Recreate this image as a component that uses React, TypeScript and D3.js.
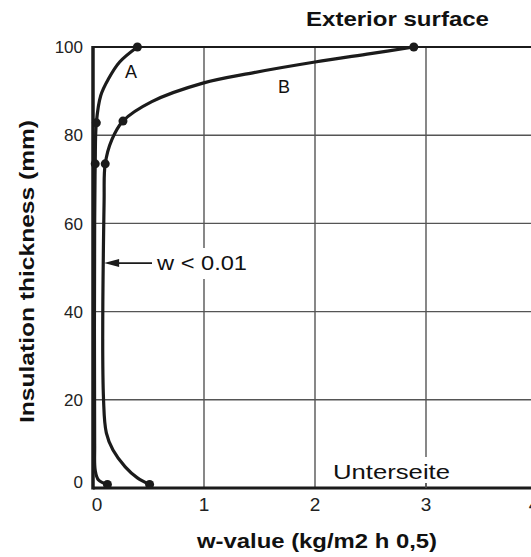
import { useEffect, useRef } from "react";
import * as d3 from "d3";

const xTicks = [0, 1, 2, 3, 4];
const yTicks = [0, 20, 40, 60, 80, 100];

// curve A: the one hugging the y axis (w, thickness mm)
const curveA = [
  { w: 0.4, t: 100 },
  { w: 0.24, t: 96.6 },
  { w: 0.14, t: 92.8 },
  { w: 0.07, t: 89 },
  { w: 0.03, t: 82.8 },
  { w: 0.02, t: 73.5 },
  { w: 0.015, t: 60 },
  { w: 0.015, t: 10 },
  { w: 0.02, t: 4 },
  { w: 0.05, t: 1.8 },
  { w: 0.13, t: 0.8 },
];
const dotsA = [
  { w: 0.4, t: 100 },
  { w: 0.03, t: 82.8 },
  { w: 0.02, t: 73.5 },
  { w: 0.13, t: 0.8 },
];

// curve B
const curveB = [
  { w: 2.89, t: 100 },
  { w: 2.5, t: 98.5 },
  { w: 2.0, t: 96.6 },
  { w: 1.45, t: 94.2 },
  { w: 0.99, t: 91.8 },
  { w: 0.53, t: 87.6 },
  { w: 0.27, t: 83.2 },
  { w: 0.17, t: 79 },
  { w: 0.11, t: 73.5 },
  { w: 0.1, t: 65 },
  { w: 0.095, t: 20 },
  { w: 0.12, t: 12.5 },
  { w: 0.18, t: 8.6 },
  { w: 0.29, t: 4.8 },
  { w: 0.4, t: 2.3 },
  { w: 0.51, t: 0.8 },
];
const dotsB = [
  { w: 2.89, t: 100 },
  { w: 0.27, t: 83.2 },
  { w: 0.11, t: 73.5 },
  { w: 0.51, t: 0.8 },
];

const ink = "#1b1b1b";
const grid = "#555";
const font = "'Liberation Sans', Arial, sans-serif";

const App = () => {
  const ref = useRef<SVGSVGElement>(null);

  useEffect(() => {
    const svg = d3.select(ref.current);
    svg.selectAll("*").remove();

    const x = d3.scaleLinear().domain([0, 4]).range([93, 537]);
    const y = d3.scaleLinear().domain([0, 100]).range([488, 47]);

    // grid
    svg.append("g")
      .selectAll("line")
      .data(yTicks.slice(1, -1))
      .join("line")
      .attr("x1", x(0)).attr("x2", x(4))
      .attr("y1", d => y(d)).attr("y2", d => y(d))
      .attr("stroke", grid).attr("stroke-width", 1.4);

    svg.append("g")
      .selectAll("line")
      .data(xTicks.slice(1))
      .join("line")
      .attr("x1", d => x(d)).attr("x2", d => x(d))
      .attr("y1", y(0)).attr("y2", y(100))
      .attr("stroke", grid).attr("stroke-width", 1.4);

    // top border
    svg.append("line")
      .attr("x1", x(0)).attr("x2", x(4))
      .attr("y1", y(100)).attr("y2", y(100))
      .attr("stroke", ink).attr("stroke-width", 2);

    // axes
    svg.append("line")
      .attr("x1", x(0)).attr("x2", x(0))
      .attr("y1", y(100) - 1).attr("y2", y(0) + 1.5)
      .attr("stroke", ink).attr("stroke-width", 3.5);
    svg.append("line")
      .attr("x1", x(0)).attr("x2", x(4))
      .attr("y1", y(0)).attr("y2", y(0))
      .attr("stroke", ink).attr("stroke-width", 3);

    // tick labels
    svg.append("g")
      .selectAll("text")
      .data(yTicks)
      .join("text")
      .attr("x", 83)
      .attr("y", d => (d === 0 ? y(d) - 6 : y(d)))
      .attr("dy", "0.36em")
      .attr("text-anchor", "end")
      .attr("font-family", font)
      .attr("font-size", 17)
      .attr("fill", "#222")
      .text(d => d);

    svg.append("g")
      .selectAll("text")
      .data(xTicks)
      .join("text")
      .attr("x", d => (d === 0 ? x(d) + 4 : d === 4 ? x(d) - 3 : x(d)))
      .attr("y", 511)
      .attr("text-anchor", "middle")
      .attr("font-family", font)
      .attr("font-size", 19)
      .attr("fill", "#222")
      .text(d => d);

    // label backgrounds cutting the grid
    svg.append("rect").attr("x", 150).attr("y", 248).attr("width", 104).attr("height", 31).attr("fill", "#fff");
    svg.append("rect").attr("x", 328).attr("y", 457).attr("width", 126).attr("height", 26).attr("fill", "#fff");
    svg.append("line")
      .attr("x1", x(3)).attr("x2", x(3))
      .attr("y1", 483).attr("y2", y(0))
      .attr("stroke", grid).attr("stroke-width", 1.4);

    // curves
    const line = d3.line<{ w: number; t: number }>()
      .x(d => x(d.w))
      .y(d => y(d.t))
      .curve(d3.curveCatmullRom.alpha(0.5));

    [curveA, curveB].forEach(c => {
      svg.append("path")
        .datum(c)
        .attr("d", line)
        .attr("fill", "none")
        .attr("stroke", ink)
        .attr("stroke-width", 3.2);
    });

    svg.append("g")
      .selectAll("circle")
      .data([...dotsA, ...dotsB])
      .join("circle")
      .attr("cx", d => x(d.w))
      .attr("cy", d => y(d.t))
      .attr("r", 4.5)
      .attr("fill", ink);

    // annotation arrow to curve B
    const ay = y(51);
    svg.append("line")
      .attr("x1", 152).attr("x2", 116)
      .attr("y1", ay).attr("y2", ay)
      .attr("stroke", ink).attr("stroke-width", 1.8);
    svg.append("path")
      .attr("d", `M${x(0.1)},${ay} L${x(0.1) + 15},${ay - 4} L${x(0.1) + 15},${ay + 4} Z`)
      .attr("fill", ink);

    const txt = (s: string, tx: number, ty: number, size: number, bold: boolean, len?: number) => {
      const t = svg.append("text")
        .attr("x", tx).attr("y", ty)
        .attr("font-family", font)
        .attr("font-size", size)
        .attr("font-weight", bold ? "bold" : "normal")
        .attr("fill", "#111")
        .text(s);
      if (len) t.attr("textLength", len).attr("lengthAdjust", "spacingAndGlyphs");
      return t;
    };

    txt("w < 0.01", 157, 270, 20, false, 90);
    txt("Unterseite", 333, 479, 20, false, 117);
    txt("A", 125, 78, 18, false);
    txt("B", 278, 93, 18, false);
    txt("Exterior surface", 306, 26, 21, true, 183);
    txt("w-value (kg/m2 h 0,5)", 197, 548, 20, true, 240);
    txt("Insulation thickness (mm)", 0, 0, 20, true, 303)
      .attr("transform", "translate(34,423) rotate(-90)");
  }, []);

  return (
    <svg
      ref={ref}
      width={531}
      height={557}
      style={{ position: "absolute", left: 0, top: 0, background: "#fff" }}
    />
  );
};

export default App;
